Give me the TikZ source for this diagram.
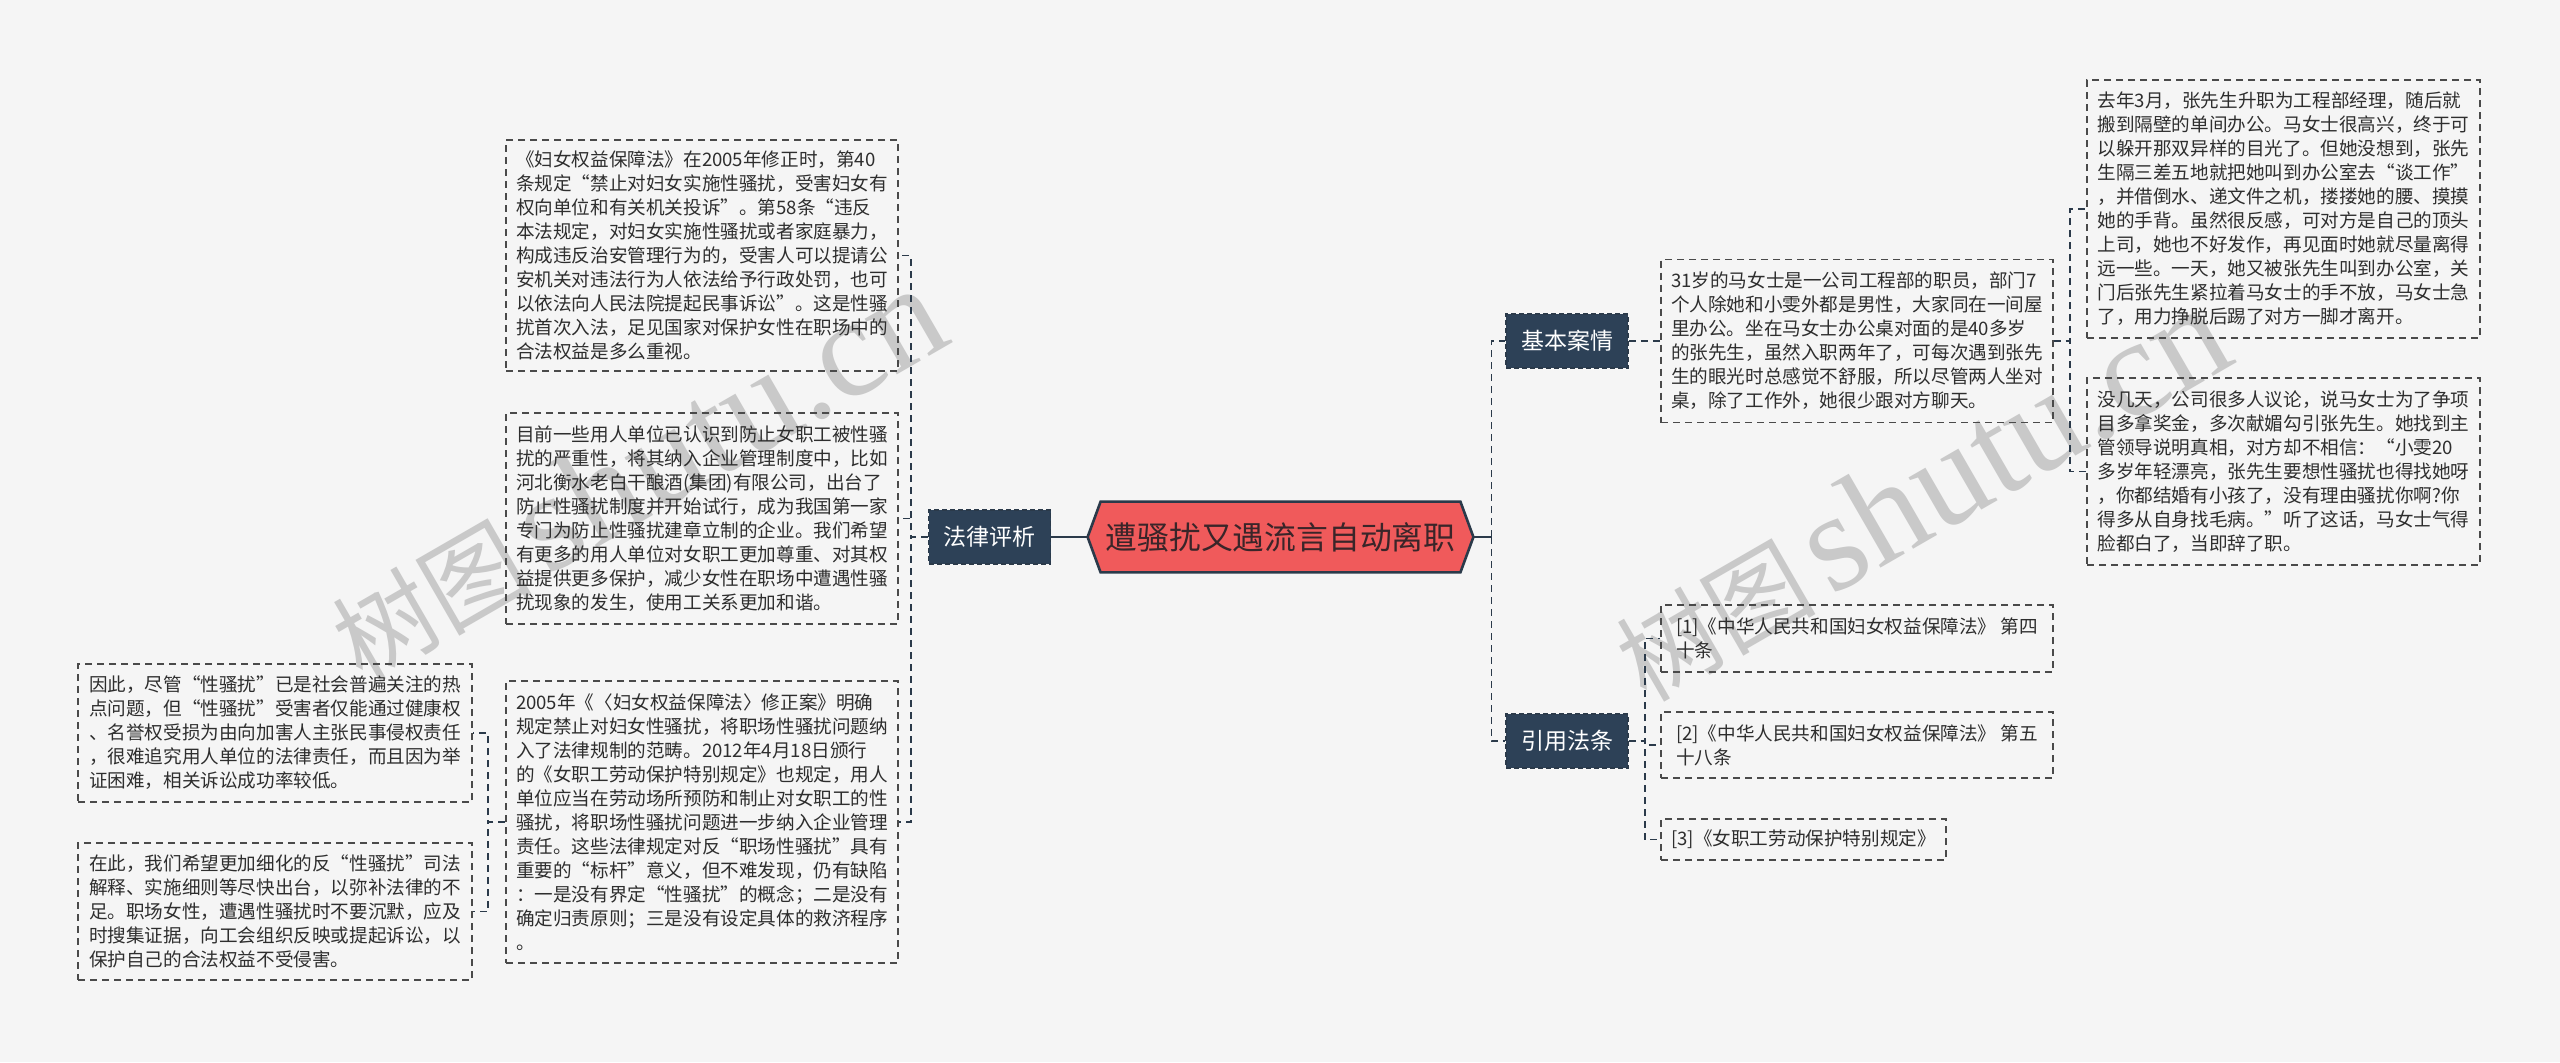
\documentclass[tikz,border=0pt]{standalone}
\usepackage{fontspec}
\newfontfamily\cjk{Noto Sans CJK SC}
\newfontfamily\wmserif{Liberation Serif}
\usetikzlibrary{calc}
\definecolor{bg}{HTML}{F5F5F5}
\definecolor{navy}{HTML}{2D4157}
\definecolor{navyline}{HTML}{2B3A4A}
\definecolor{coral}{HTML}{F05A5B}
\definecolor{leafline}{HTML}{4A4A4A}
\definecolor{leaftext}{HTML}{2E2E2E}
\definecolor{roottext}{HTML}{3A2529}
\definecolor{wmcol}{HTML}{C9C9C9}
\pgfdeclarelayer{back}
\pgfsetlayers{back,main}
\newcommand\wmtext{{\cjk\fontsize{50pt}{56pt}\selectfont 树图}\hspace{7pt}{\wmserif\fontsize{70pt}{76pt}\selectfont shutu.cn}}
\begin{document}
\begin{tikzpicture}[x=0.5pt,y=-0.5pt,
  leaf/.style 2 args={draw=leafline, line width=0.8pt, dash pattern=on 3.5pt off 2.5pt,
    font=\cjk\fontsize{9.3pt}{12pt}\selectfont, text=leaftext, align=left,
    inner sep=0pt, minimum width=#1, minimum height=#2},
  branch/.style={fill=navy, draw=navyline, line width=0.8pt, dash pattern=on 2.5pt off 1.5pt,
    font=\cjk\fontsize{11.5pt}{13pt}\selectfont, text=white, inner sep=0pt,
    minimum width=61pt, minimum height=27pt},
  rootnode/.style={font=\cjk\fontsize{15.9pt}{18pt}\selectfont, text=roottext, inner sep=0pt,
    minimum width=192.5pt, minimum height=35pt},
  conn/.style={draw=navyline, line width=0.9pt, dash pattern=on 3.5pt off 2.5pt},
  rootln/.style={draw=navyline, line width=1.4pt},
  wmark/.style={text=wmcol, rotate=30, inner sep=0pt, anchor=base west}
]
\useasboundingbox (0,0) rectangle (2560,1062);

% root node
\node[rootnode] (root) at (1280.5,537) {遭骚扰又遇流言自动离职};

\begin{pgfonlayer}{back}
\fill[bg] (0,0) rectangle (2560,1062);
\node[wmark] (wm1) at (362,684) {\wmtext};
\node[wmark] (wm2) at (1646,704) {\wmtext};
\draw[fill=coral, draw=navyline, line width=1.3pt]
  (root.west) -- ($(root.north west)+(13,0)$) -- ($(root.north east)+(-13,0)$)
  -- (root.east) -- ($(root.south east)+(-13,0)$) -- ($(root.south west)+(13,0)$) -- cycle;
\end{pgfonlayer}

% branch nodes
\node[branch] (law) at (989.5,537) {法律评析};
\node[branch] (case) at (1567,341) {基本案情};
\node[branch] (cite) at (1567,741) {引用法条};

% leaves - left
\node[leaf={196pt}{115.5pt}] (L1) at (702,255.5) {《妇女权益保障法》在2005年修正时，第40\\
条规定“禁止对妇女实施性骚扰，受害妇女有\\
权向单位和有关机关投诉”。第58条“违反\\
本法规定，对妇女实施性骚扰或者家庭暴力，\\
构成违反治安管理行为的，受害人可以提请公\\
安机关对违法行为人依法给予行政处罚，也可\\
以依法向人民法院提起民事诉讼”。这是性骚\\
扰首次入法，足见国家对保护女性在职场中的\\
合法权益是多么重视。};

\node[leaf={196pt}{105.5pt}] (L2) at (702,518.5) {目前一些用人单位已认识到防止女职工被性骚\\
扰的严重性，将其纳入企业管理制度中，比如\\
河北衡水老白干酿酒(集团)有限公司，出台了\\
防止性骚扰制度并开始试行，成为我国第一家\\
专门为防止性骚扰建章立制的企业。我们希望\\
有更多的用人单位对女职工更加尊重、对其权\\
益提供更多保护，减少女性在职场中遭遇性骚\\
扰现象的发生，使用工关系更加和谐。};

\node[leaf={196pt}{141pt}] (L3) at (702,822) {2005年《〈妇女权益保障法〉修正案》明确\\
规定禁止对妇女性骚扰，将职场性骚扰问题纳\\
入了法律规制的范畴。2012年4月18日颁行\\
的《女职工劳动保护特别规定》也规定，用人\\
单位应当在劳动场所预防和制止对女职工的性\\
骚扰，将职场性骚扰问题进一步纳入企业管理\\
责任。这些法律规定对反“职场性骚扰”具有\\
重要的“标杆”意义，但不难发现，仍有缺陷\\
：一是没有界定“性骚扰”的概念；二是没有\\
确定归责原则；三是没有设定具体的救济程序\\
。};

\node[leaf={197pt}{69pt}] (LL1) at (275,733) {因此，尽管“性骚扰”已是社会普遍关注的热\\
点问题，但“性骚扰”受害者仅能通过健康权\\
、名誉权受损为由向加害人主张民事侵权责任\\
，很难追究用人单位的法律责任，而且因为举\\
证困难，相关诉讼成功率较低。};

\node[leaf={197pt}{68.5pt}] (LL2) at (275,911.5) {在此，我们希望更加细化的反“性骚扰”司法\\
解释、实施细则等尽快出台，以弥补法律的不\\
足。职场女性，遭遇性骚扰时不要沉默，应及\\
时搜集证据，向工会组织反映或提起诉讼，以\\
保护自己的合法权益不受侵害。};

% leaves - right
\node[leaf={196pt}{81.5pt}] (R1) at (1857,341) {31岁的马女士是一公司工程部的职员，部门7\\
个人除她和小雯外都是男性，大家同在一间屋\\
里办公。坐在马女士办公桌对面的是40多岁\\
的张先生，虽然入职两年了，可每次遇到张先\\
生的眼光时总感觉不舒服，所以尽管两人坐对\\
桌，除了工作外，她很少跟对方聊天。};

\node[leaf={196.5pt}{129pt}] (RR1) at (2283.5,209) {去年3月，张先生升职为工程部经理，随后就\\
搬到隔壁的单间办公。马女士很高兴，终于可\\
以躲开那双异样的目光了。但她没想到，张先\\
生隔三差五地就把她叫到办公室去“谈工作”\\
，并借倒水、递文件之机，搂搂她的腰、摸摸\\
她的手背。虽然很反感，可对方是自己的顶头\\
上司，她也不好发作，再见面时她就尽量离得\\
远一些。一天，她又被张先生叫到办公室，关\\
门后张先生紧拉着马女士的手不放，马女士急\\
了，用力挣脱后踢了对方一脚才离开。};

\node[leaf={196.5pt}{93.5pt}] (RR2) at (2283.5,471.5) {没几天，公司很多人议论，说马女士为了争项\\
目多拿奖金，多次献媚勾引张先生。她找到主\\
管领导说明真相，对方却不相信：“小雯20\\
多岁年轻漂亮，张先生要想性骚扰也得找她呀\\
，你都结婚有小孩了，没有理由骚扰你啊?你\\
得多从自身找毛病。”听了这话，马女士气得\\
脸都白了，当即辞了职。};

\node[leaf={196pt}{33.5pt}] (Ref1) at (1857,638.5) {[1]《中华人民共和国妇女权益保障法》 第四\\
十条};
\node[leaf={196pt}{33pt}] (Ref2) at (1857,745) {[2]《中华人民共和国妇女权益保障法》 第五\\
十八条};
\node[leaf={142.5pt}{20.5pt}] (Ref3) at (1803.5,839.5) {[3]《女职工劳动保护特别规定》};

% connectors
\draw[rootln] (root.west) -- (law.east);
\coordinate (rj) at ($(root.east)+(18,0)$);
\draw[rootln] (root.east) -- (rj);
\draw[conn] (rj) |- (case.west);
\draw[conn] (rj) |- (cite.west);

\draw[conn] (law.west) -- ++(-17,0) |- (L1.east);
\draw[conn] (law.west) -- ++(-17,0) |- (L2.east);
\draw[conn] (law.west) -- ++(-17,0) |- (L3.east);

\draw[conn] (L3.west) -- ++(-17,0) |- (LL1.east);
\draw[conn] (L3.west) -- ++(-17,0) |- (LL2.east);

\draw[conn] (case.east) -- (R1.west);
\draw[conn] (R1.east) -- ++(16,0) |- (RR1.west);
\draw[conn] (R1.east) -- ++(16,0) |- (RR2.west);

\draw[conn] (cite.east) -- ++(16,0) |- (Ref1.west);
\draw[conn] (cite.east) -- ++(16,0) |- (Ref2.west);
\draw[conn] (cite.east) -- ++(16,0) |- (Ref3.west);
\end{tikzpicture}
\end{document}
